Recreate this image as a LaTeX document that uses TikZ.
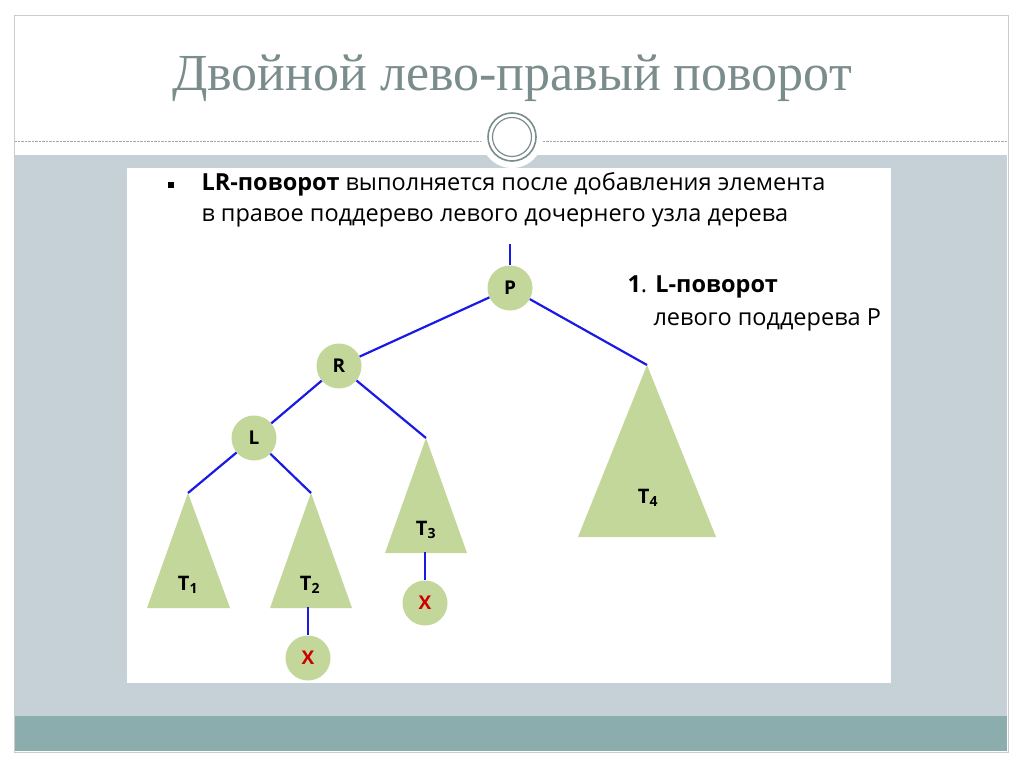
\documentclass[tikz,border=0pt]{standalone}
\usepackage{fontspec}
\setmainfont{Open Sans}
\newfontfamily\titlefont{Liberation Serif}
\begin{document}
\begin{tikzpicture}[x=1pt,y=-1pt]
\definecolor{band}{HTML}{C6D1D7}
\definecolor{teal}{HTML}{8CADAD}
\definecolor{ttl}{HTML}{7A8C8C}
\definecolor{leaf}{HTML}{C4D79B}
\definecolor{edge}{HTML}{1A1AE6}
\tikzset{vtx/.style={circle,fill=leaf,minimum size=45pt,inner sep=0pt,font=\bfseries\fontsize{19}{19}\selectfont},
 tri/.style={fill=leaf},
 br/.style={edge,line width=2.2pt},
 lab/.style={font=\bfseries\fontsize{20}{20}\selectfont}}
\useasboundingbox (0,0) rectangle (1024,767);
\fill[white] (0,0) rectangle (1024,767);
\draw[gray!40] (14,15) rectangle (1008,752);
\fill[band] (15,155) rectangle (1007,716);
\fill[teal] (15,716) rectangle (1007,751);
\draw[gray!70,densely dotted] (15,141) -- (1007,141);
\fill[white] (127,168) rectangle (891,683);
\node[circle,fill=white,minimum size=62pt,inner sep=0pt] (ring) at (512,137) {};
\draw[ttl,line width=1.6pt] (ring.center) circle (24);
\draw[ttl,line width=1.2pt] (ring.center) circle (19.5);
\node[text=ttl,font=\titlefont\fontsize{52}{52}\selectfont] (title) at (512,78) {Двойной лево-правый поворот};
\node[anchor=west,font=\fontsize{23.5}{31}\selectfont,align=left] (txt) at (164,200)
 {\makebox[34pt][l]{\rule[3pt]{6pt}{6pt}}\textbf{LR-поворот} выполняется после добавления элемента\\\hspace*{34pt}в правое поддерево левого дочернего узла дерева};
\node[anchor=west,font=\fontsize{23.5}{33}\selectfont,align=left] (step1) at (624,303)
 {\textbf{1}. \textbf{L-поворот}\\\hspace*{26pt}левого поддерева P};
% triangles
\coordinate (a1) at (188,493); \coordinate (a2) at (311,493);
\coordinate (a3) at (426,438); \coordinate (a4) at (647,365);
\fill[tri] (a1) -- (147,608) -- (230,608) -- cycle;
\fill[tri] (a2) -- (270,608) -- (352,608) -- cycle;
\fill[tri] (a3) -- (385,553) -- (467,553) -- cycle;
\fill[tri] (a4) -- (578,537) -- (716,537) -- cycle;
\coordinate (b2) at (308,607); \coordinate (b3) at (425,552);
\coordinate (top) at (510,244);
\node[lab] (t1) at (188,585) {T\textsubscript{1}};
\node[lab] (t2) at (310,585) {T\textsubscript{2}};
\node[lab] (t3) at (426,530) {T\textsubscript{3}};
\node[lab] (t4) at (648,498) {T\textsubscript{4}};
% vertices
\node[vtx] (P) at (510,288) {P};
\node[vtx] (R) at (339,366) {R};
\node[vtx] (L) at (254,438) {L};
\node[vtx,text=red!80!black] (X1) at (308,658) {X};
\node[vtx,text=red!80!black] (X2) at (425,603) {X};
\draw[br] (top) -- (P);
\draw[br] (P) -- (R);
\draw[br] (P) -- (a4);
\draw[br] (R) -- (L);
\draw[br] (R) -- (a3);
\draw[br] (L) -- (a1);
\draw[br] (L) -- (a2);
\draw[br] (b2) -- (X1);
\draw[br] (b3) -- (X2);
\end{tikzpicture}
\end{document}
